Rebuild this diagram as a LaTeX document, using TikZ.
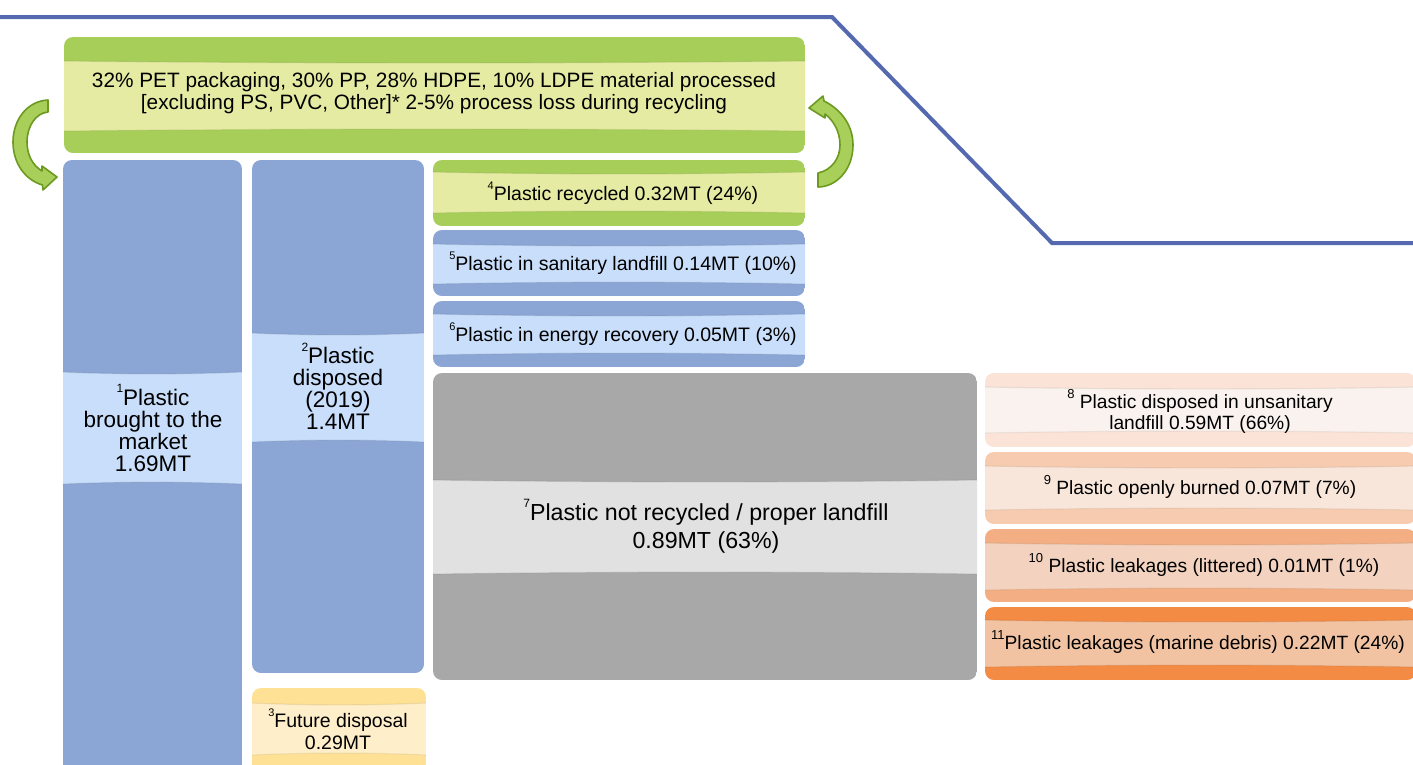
\documentclass[tikz,border=0pt]{standalone}
\usepackage{fontspec}
\setmainfont{Liberation Sans}
\definecolor{blueline}{HTML}{5469B0}
\definecolor{greenD}{HTML}{A7CE59}
\definecolor{greenL}{HTML}{E5EBA2}
\definecolor{blueD}{HTML}{8BA6D5}
\definecolor{blueL}{HTML}{C8DEFA}
\definecolor{yellowD}{HTML}{FFE196}
\definecolor{yellowL}{HTML}{FEEECA}
\definecolor{grayD}{HTML}{A8A8A8}
\definecolor{grayL}{HTML}{E1E1E1}
\definecolor{oaD}{HTML}{FBE4D7}
\definecolor{oaL}{HTML}{F9F2EE}
\definecolor{obD}{HTML}{F7CBAF}
\definecolor{obL}{HTML}{F8E6DB}
\definecolor{ocD}{HTML}{F3AF83}
\definecolor{ocL}{HTML}{F3D3BF}
\definecolor{odD}{HTML}{F38B44}
\definecolor{odL}{HTML}{F1C3A3}
\definecolor{arrowF}{HTML}{A8CF5A}
\definecolor{arrowE}{HTML}{6C9A20}
% x1 y1 x2 y2 bandtop bandbottom dark light
\newcommand\bandbox[8]{%
  \begin{scope}
    \clip[rounded corners=9pt] (#1,#2) rectangle (#3,#4);
    \fill[#7] (#1,#2) rectangle (#3,#4);
    \fill[#8] (#1,#5) .. controls ({(2*#1+#3)/3},{#5+2.5}) and ({(#1+2*#3)/3},{#5+2.5}) .. (#3,#5)
      -- (#3,#6) .. controls ({(#1+2*#3)/3},{#6-2.5}) and ({(2*#1+#3)/3},{#6-2.5}) .. (#1,#6) -- cycle;
    \draw[#7!75!black, opacity=0.25, line width=1.2pt] (#1,#5) .. controls ({(2*#1+#3)/3},{#5+2.5}) and ({(#1+2*#3)/3},{#5+2.5}) .. (#3,#5);
    \draw[#7!75!black, opacity=0.2, line width=1.2pt] (#3,#6) .. controls ({(#1+2*#3)/3},{#6-2.5}) and ({(2*#1+#3)/3},{#6-2.5}) .. (#1,#6);
  \end{scope}}
\newcommand\sn[2][11]{\raisebox{0.55em}{\fontsize{#1}{#1}\selectfont #2}}
\tikzset{
  lbl/.style={align=center, inner sep=0pt, text=black, font=\fontsize{19.5}{22}\selectfont},
  lbltop/.style={lbl, font=\fontsize{20.8}{22}\selectfont},
  lblcol/.style={lbl, font=\fontsize{22.5}{22}\selectfont},
  lblsmall/.style={lbl, font=\fontsize{19.2}{20.5}\selectfont},
  lblbig/.style={lbl, font=\fontsize{23.2}{28}\selectfont},
  bentarrow/.style={fill=arrowF, draw=arrowE, line width=1.6pt, line join=round}
}
\begin{document}
\begin{tikzpicture}[x=1pt,y=-1pt]
\useasboundingbox (0,0) rectangle (1413,764);
\clip (0,0) rectangle (1413,764);
\fill[white] (0,0) rectangle (1413,764);

% blue outline
\draw[blueline, line width=4pt, line join=miter] (-5,17) -- (832,17) -- (1052,243) -- (1420,243);

% top box
\bandbox{64}{37}{805}{153}{61}{131}{greenD}{greenL}
\node[lbltop] (top) at (434,93) {32\% PET packaging, 30\% PP, 28\% HDPE, 10\% LDPE material processed\\[0pt][excluding PS, PVC, Other]* 2-5\% process loss during recycling};

% column 1
\bandbox{63}{160}{242}{790}{372}{484}{blueD}{blueL}
\node[lblcol] (t1) at (153,428) {\sn[12]{1}Plastic\\brought to the\\market\\1.69MT};

% column 2
\bandbox{252}{160}{424}{673}{333}{442}{blueD}{blueL}
\node[lblcol] (t2) at (338,386) {\sn[12]{2}Plastic\\disposed\\(2019)\\1.4MT};

% box 3
\bandbox{252}{688}{426}{778}{703}{755}{yellowD}{yellowL}
\node[lbl] (t3) at (338,729) {\sn{3}Future disposal\\0.29MT};

% boxes 4-6
\bandbox{433}{160}{805}{226}{172}{213}{greenD}{greenL}
\node[lbl] (t4) at (623,193) {\sn{4}Plastic recycled 0.32MT (24\%)};
\bandbox{433}{230}{805}{296}{244}{284}{blueD}{blueL}
\node[lbl] (t5) at (623,263) {\sn{5}Plastic in sanitary landfill 0.14MT (10\%)};
\bandbox{433}{301}{805}{367}{314}{355}{blueD}{blueL}
\node[lbl] (t6) at (623,334) {\sn{6}Plastic in energy recovery 0.05MT (3\%)};

% box 7
\bandbox{433}{373}{977}{680}{480}{574}{grayD}{grayL}
\node[lblbig] (t7) at (706,526) {\sn[12]{7}Plastic not recycled / proper landfill\\0.89MT (63\%)};

% boxes 8-11
\bandbox{985}{373}{1416}{447}{387}{433}{oaD}{oaL}
\node[lblsmall] (t8) at (1200,411) {\sn[13]{8} Plastic disposed in unsanitary\\landfill 0.59MT (66\%)};
\bandbox{985}{452}{1416}{524}{466}{510}{obD}{obL}
\node[lblsmall] (t9) at (1200,487) {\sn[13]{9} Plastic openly burned 0.07MT (7\%)};
\bandbox{985}{529}{1416}{602}{543}{590}{ocD}{ocL}
\node[lblsmall] (t10) at (1204,565) {\sn[13]{10} Plastic leakages (littered) 0.01MT (1\%)};
\bandbox{985}{607}{1416}{680}{620}{667}{odD}{odL}
\node[lblsmall] (t11) at (1198,642) {\sn[13]{11}Plastic leakages (marine debris) 0.22MT (24\%)};

% curved arrows
\draw[bentarrow] (48,100) .. controls (27,101) and (13,120) .. (13,142)
  .. controls (13,163) and (25,180) .. (42.5,185) -- (43,190) -- (57,177) -- (42,166) -- (42,171)
  .. controls (32,165) and (27,154) .. (27,142) .. controls (27,126) and (36,113) .. (48,112) -- cycle;
\draw[bentarrow] (818,173) .. controls (832,170) and (840,158) .. (840,145)
  .. controls (840,131) and (833,120) .. (825,114) -- (825,118) -- (809,108) -- (823,96) -- (824,101)
  .. controls (842,110) and (853,126) .. (853,145) .. controls (853,170) and (836,187) .. (818,187) -- cycle;
\end{tikzpicture}
\end{document}
